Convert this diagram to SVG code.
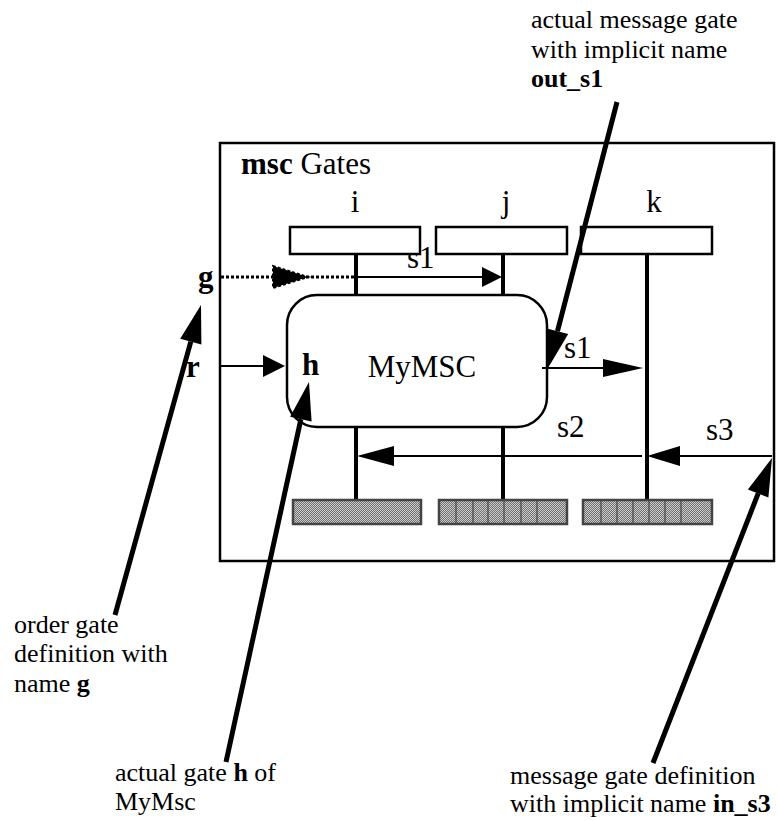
<svg xmlns="http://www.w3.org/2000/svg" width="778" height="821" viewBox="0 0 778 821">
<defs>
<pattern id="hatch" width="2" height="2" patternUnits="userSpaceOnUse">
<rect width="2" height="2" fill="#6e6e6e"/>
<rect width="1" height="1" fill="#cfcfcf"/>
<rect x="1" y="1" width="1" height="1" fill="#cfcfcf"/>
</pattern>
<style>
.t{font-family:"Liberation Serif","Times New Roman",serif;fill:#000}
.d{font-size:31px}
.a{font-size:26px}
.b{font-weight:bold}
.frame{fill:none;stroke:#000;stroke-width:2.5}
.box{fill:#fff;stroke:#000;stroke-width:2.5}
.life{stroke:#000;stroke-width:4}
.end{fill:url(#hatch);stroke:#444;stroke-width:2.5}
.div{stroke:#333;stroke-width:1}
.msg{stroke:#000;stroke-width:2;fill:none}
.dot{stroke:#000;stroke-width:3;stroke-dasharray:3 2;fill:none}
.ptr{stroke:#000;stroke-width:5;fill:none}
.ah{fill:#000}
</style>
</defs>
<rect width="778" height="821" fill="#fff"/>

<g id="frame">
<rect class="frame" x="220" y="143" width="554" height="418"/>
<text class="t d" x="241" y="174"><tspan class="b">msc</tspan> Gates</text>
</g>

<g id="instance-i">
<text class="t d" x="355" y="212" text-anchor="middle">i</text>
<rect class="box" x="290" y="227" width="130" height="27"/>
<line class="life" x1="356" y1="254" x2="356" y2="295"/>
<line class="life" x1="356" y1="427" x2="356" y2="501"/>
<rect class="end" x="293" y="500" width="128" height="24"/>
</g>

<g id="instance-j">
<text class="t d" x="506" y="212" text-anchor="middle">j</text>
<rect class="box" x="436" y="227" width="131" height="27"/>
<line class="life" x1="503" y1="254" x2="503" y2="295"/>
<line class="life" x1="503" y1="427" x2="503" y2="501"/>
<rect class="end" x="439" y="500" width="128" height="24"/>
<path class="div" d="M456,501V523M473,501V523M488,501V523M504,501V523M521,501V523M537,501V523"/>
</g>

<g id="instance-k">
<text class="t d" x="654" y="212" text-anchor="middle">k</text>
<rect class="box" x="581" y="227" width="131" height="27"/>
<line class="life" x1="647" y1="254" x2="647" y2="501"/>
<rect class="end" x="583" y="500" width="129" height="24"/>
<path class="div" d="M601,501V523M617,501V523M633,501V523M649,501V523M665,501V523M681,501V523"/>
</g>

<g id="mymsc">
<rect class="box" x="287" y="295" width="260" height="132" rx="30" ry="30"/>
<text class="t d" x="422" y="377" text-anchor="middle">MyMSC</text>
<text class="t d b" x="302" y="375">h</text>
</g>

<g id="gate-g">
<text class="t d b" x="198" y="287">g</text>
</g>

<g id="gate-r">
<text class="t d b" x="186" y="377">r</text>
</g>

<g id="note-out-s1">
<text class="t a" x="531" y="28">actual message gate</text>
<text class="t a" x="531" y="58">with implicit name</text>
<text class="t a b" x="531" y="87">out_s1</text>
</g>

<g id="note-g">
<text class="t a" x="14" y="633">order gate</text>
<text class="t a" x="14" y="662">definition with</text>
<text class="t a" x="14" y="692">name <tspan class="b">g</tspan></text>
</g>

<g id="note-h">
<text class="t a" x="115" y="781">actual gate <tspan class="b">h</tspan> of</text>
<text class="t a" x="115" y="810">MyMsc</text>
</g>

<g id="note-in-s3">
<text class="t a" x="510" y="784">message gate definition</text>
<text class="t a" x="510" y="812">with implicit name <tspan class="b">in_s3</tspan></text>
</g>

<g id="connectors">
<line class="dot" x1="221" y1="277" x2="356" y2="277"/>
<polygon class="ah" points="273,266 308,277 273,288" stroke="#000" stroke-width="2" stroke-dasharray="3 2"/>
<line class="msg" x1="356" y1="277" x2="484" y2="277"/>
<polygon class="ah" points="482,267 502,277 482,287"/>
<text class="t d" x="407" y="268">s1</text>
<line class="msg" x1="221" y1="366" x2="265" y2="366"/>
<polygon class="ah" points="263,355 285,366 263,377"/>
<line class="msg" x1="542" y1="368" x2="605" y2="368"/>
<polygon class="ah" points="603,359 643,368 603,377"/>
<text class="t d" x="564" y="358">s1</text>
<line class="msg" x1="642" y1="456" x2="392" y2="456"/>
<polygon class="ah" points="394,446 357,456 394,466"/>
<text class="t d" x="557" y="437">s2</text>
<line class="msg" x1="772" y1="456" x2="678" y2="456"/>
<polygon class="ah" points="680,446 647,456 680,466"/>
<text class="t d" x="706" y="440">s3</text>
<line class="ptr" x1="115" y1="615" x2="190.8" y2="341.6"/>
<polygon class="ah" points="201,305 201.4,344.5 180.2,338.7"/>
<line class="ptr" x1="226" y1="762" x2="300.9" y2="419.1"/>
<polygon class="ah" points="309,382 311.6,421.5 290.1,416.8"/>
<line class="ptr" x1="653" y1="763" x2="758.2" y2="493.4"/>
<polygon class="ah" points="772,458 768.4,497.4 747.9,489.4"/>
<line class="ptr" x1="617" y1="102" x2="557.5" y2="331.2"/>
<polygon class="ah" points="548,368 568.2,334 546.9,328.4"/>
</g>
</svg>
